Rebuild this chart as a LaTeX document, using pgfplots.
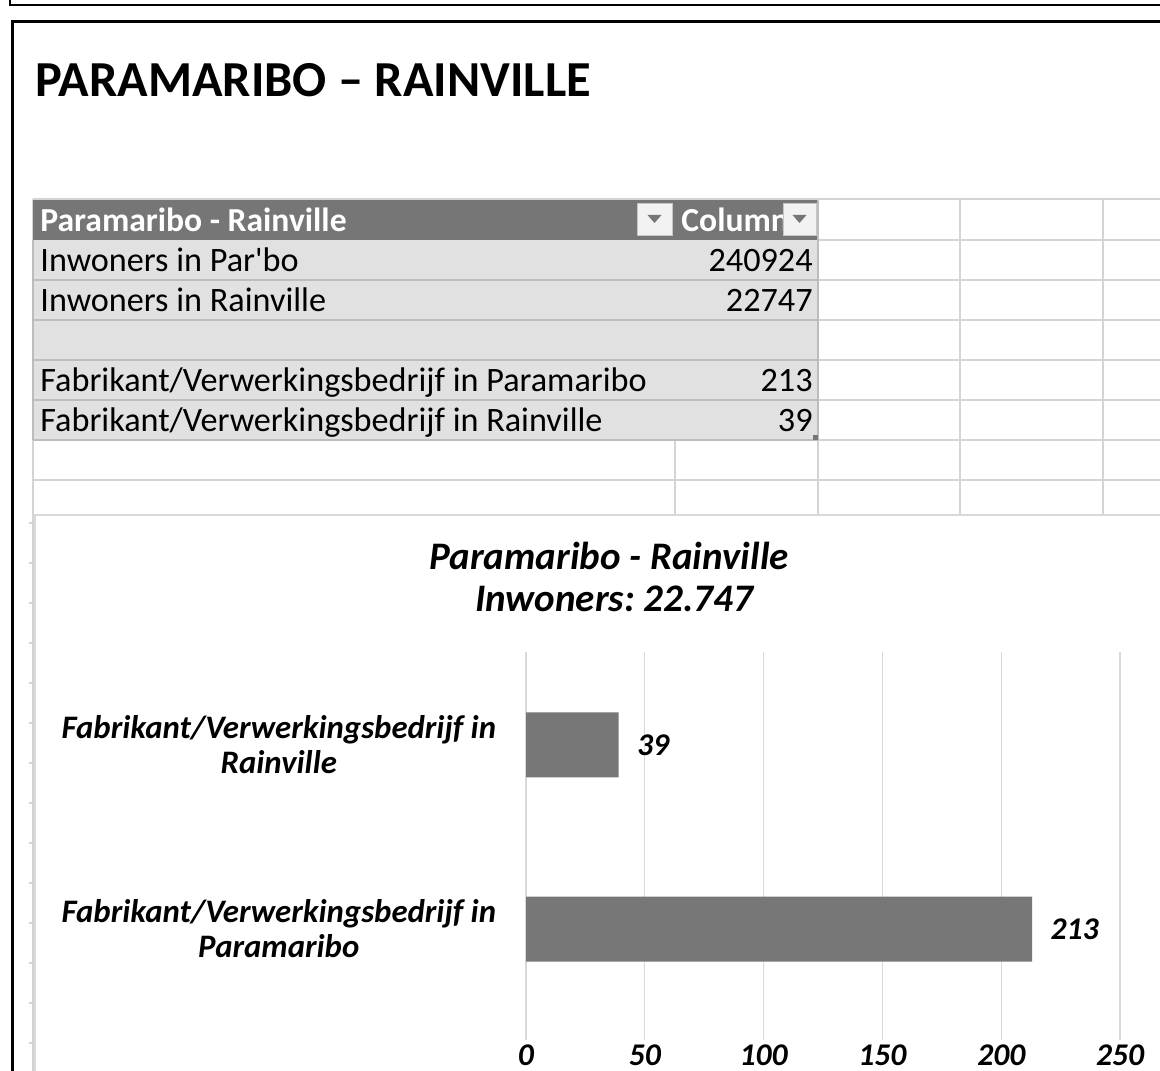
\documentclass[border=0pt]{standalone}
\usepackage{fontspec}
\setmainfont{Carlito}
\newfontfamily\nomap{Carlito}
\usepackage{pgfplots}
\pgfplotsset{compat=1.18}
\definecolor{bargray}{HTML}{777777}
\definecolor{hdrgray}{HTML}{767676}
\definecolor{rowgray}{HTML}{E1E1E1}
\definecolor{sepgray}{HTML}{BDBDBD}
\definecolor{gridgray}{HTML}{D4D4D4}
\definecolor{chartgrid}{HTML}{D9D9D9}
\frenchspacing
\begin{document}
\begin{tikzpicture}[x=0.5pt,y=0.5pt]
\useasboundingbox (0,0) rectangle (1160,1070);
\clip (0,0) rectangle (1160,1070);
% outer frames
\draw[line width=1.4pt] (10,1075) -- (10,1065) -- (1165,1065);
\draw[line width=1.5pt] (12,-5) -- (12,1048) -- (1165,1048);
% page title
\node[anchor=base west, inner sep=0pt, font=\fontsize{25.2}{30}\selectfont\bfseries] at (35,973) {PARAMARIBO – RAINVILLE};
% spreadsheet grid
\begin{scope}[gridgray, line width=0.6pt]
\draw (33,871) -- (1165,871);
\foreach \yy in {830,790,750,710,670,630} {\draw (818,\yy) -- (1165,\yy);}
\draw (33,590) -- (1165,590);
\foreach \xx in {818,960,1103} {\draw (\xx,871) -- (\xx,555);}
\draw (675,630) -- (675,555);
\draw (33,871) -- (33,-5);
\foreach \yy in {547,507,...,7} {\draw (29,\yy) -- (35,\yy);}
\end{scope}
% chart area
\fill[white] (35,-5) rectangle (1165,555);
\draw[chartgrid, line width=0.6pt] (35,-5) -- (35,555) -- (1165,555);
% table
\fill[hdrgray] (33,830) rectangle (818,870);
\fill[rowgray] (33,630) rectangle (818,830);
\begin{scope}[sepgray, line width=0.6pt]
\foreach \yy in {790,750,710,670,630} {\draw (33,\yy) -- (818,\yy);}
\draw (33,630) -- (33,830);
\draw (818,630) -- (818,870);
\end{scope}
\node[anchor=base west, inner sep=0pt, text=white, font=\fontsize{16.8}{19}\selectfont\bfseries] at (40,838) {Paramaribo - Rainville};
\node[anchor=base west, inner sep=0pt, text=white, font=\fontsize{16.8}{19}\selectfont\bfseries] at (681,838) {Column1};
\foreach \xa/\xb in {637/672,783/816} {
  \fill[gray!10] (\xa,834) rectangle (\xb,866);
  \draw[gray!45, line width=0.5pt] (\xa,834) rectangle (\xb,866);
  \fill[hdrgray] ({(\xa+\xb)/2-7},855) -- ({(\xa+\xb)/2+7},855) -- ({(\xa+\xb)/2},847) -- cycle;
}
\begin{scope}[every node/.style={inner sep=0pt, font=\fontsize{17.1}{19}\selectfont}]
\node[anchor=base west] at (40,798) {Inwoners in Par{\nomap '}bo};
\node[anchor=base east] at (813,798) {240924};
\node[anchor=base west] at (40,758) {Inwoners in Rainville};
\node[anchor=base east] at (813,758) {22747};
\node[anchor=base west] at (40,678) {Fabrikant/Verwerkingsbedrijf in Paramaribo};
\node[anchor=base east] at (813,678) {213};
\node[anchor=base west] at (40,638) {Fabrikant/Verwerkingsbedrijf in Rainville};
\node[anchor=base east] at (813,638) {39};
\end{scope}
\fill[hdrgray] (813,630) rectangle (818,635);
% chart title
\node[anchor=base, inner sep=0pt, font=\fontsize{19.5}{23}\selectfont\bfseries\itshape] at (609,500) {Paramaribo - Rainville};
\node[anchor=base, inner sep=0pt, font=\fontsize{19.5}{23}\selectfont\bfseries\itshape] at (614,458) {Inwoners: 22.747};
% chart
\begin{axis}[
  at={(263pt,15pt)}, anchor=south west,
  width=317pt, height=194pt, scale only axis,
  xbar, bar width=32.5pt,
  xmin=0, xmax=266.8, ymin=-0.603, ymax=1.505,
  axis line style={draw=none}, tick style={draw=none},
  xmajorgrids, grid style={chartgrid, line width=0.6pt},
  xtick={0,50,...,250},
  ytick={0,1},
  yticklabels={{Fabrikant/Verwerkingsbedrijf in\\Paramaribo},{Fabrikant/Verwerkingsbedrijf in\\Rainville}},
  yticklabel style={align=center, inner sep=0pt, xshift=-10.5pt, font=\fontsize{16.4}{17.5}\selectfont\bfseries\itshape},
  xticklabel style={inner sep=0pt, yshift=-2pt, font=\fontsize{15.8}{18}\selectfont\bfseries\itshape},
  /pgf/number format/assume math mode=true,
  nodes near coords,
  nodes near coords style={anchor=west, inner sep=0pt, xshift=9pt, font=\fontsize{15.8}{18}\selectfont\bfseries\itshape},
  clip=false,
]
\addplot[fill=bargray, draw=none] coordinates {(213,0) (39,1)};
\end{axis}
\end{tikzpicture}
\end{document}
